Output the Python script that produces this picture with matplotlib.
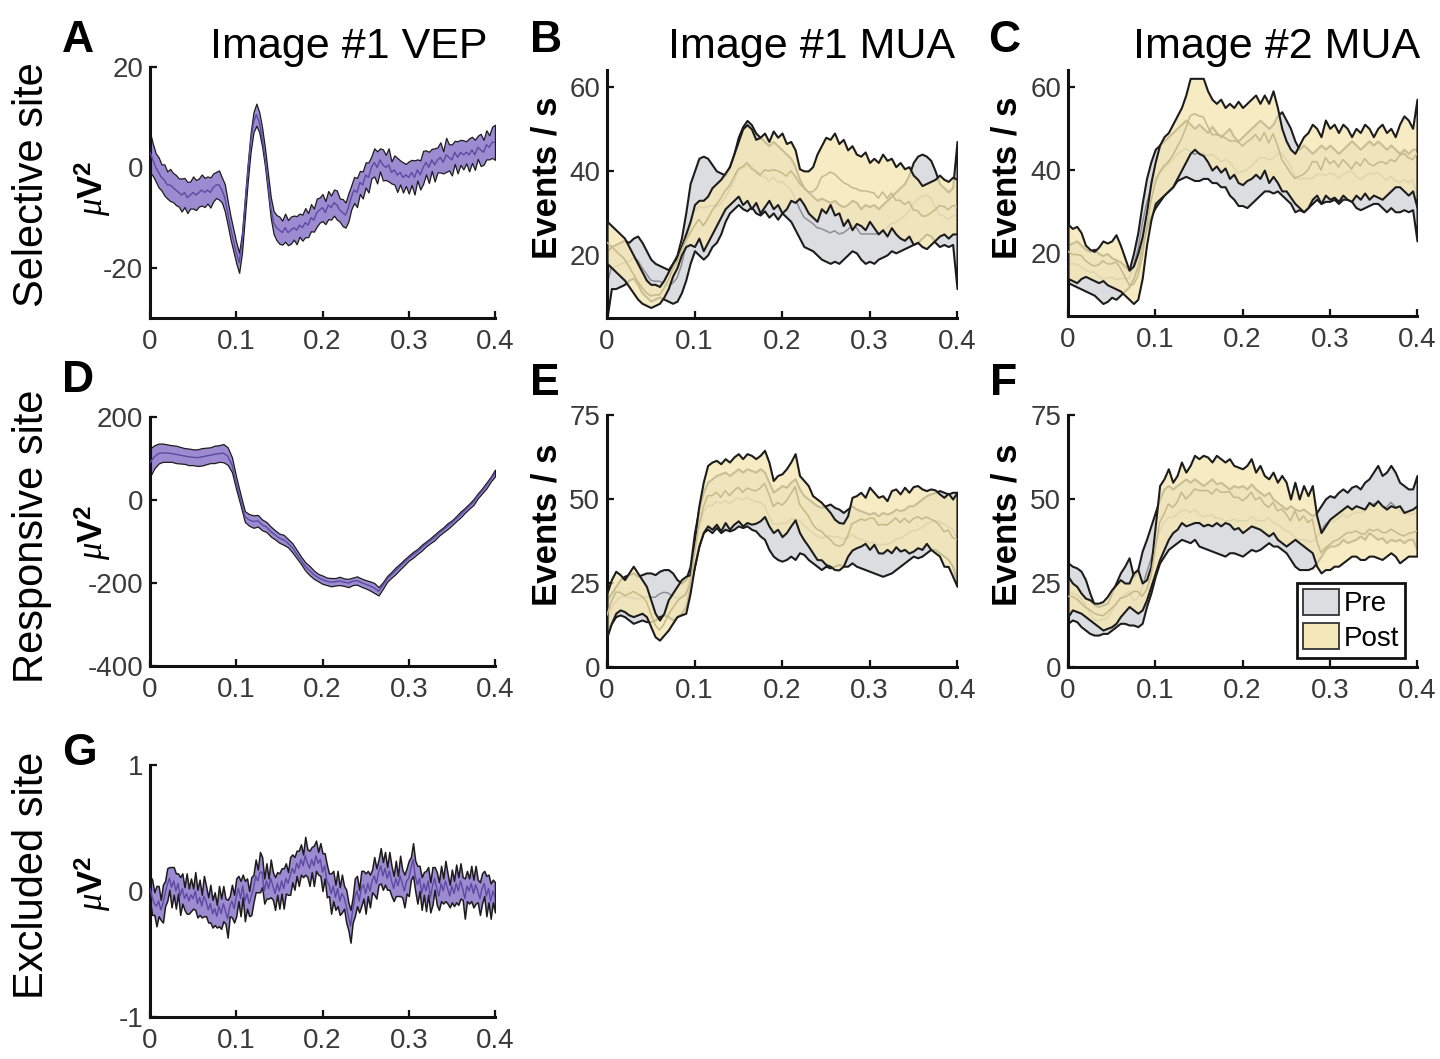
import numpy as np
import matplotlib
matplotlib.use("Agg")
import matplotlib.pyplot as plt
from matplotlib.patches import Patch

plt.rcParams["font.family"] = ["Liberation Sans", "DejaVu Sans"]
plt.rcParams["axes.unicode_minus"] = False
plt.rcParams["mathtext.fontset"] = "custom"
plt.rcParams["mathtext.rm"] = "Liberation Sans"
plt.rcParams["mathtext.it"] = "Liberation Serif:italic"
plt.rcParams["mathtext.bf"] = "Liberation Sans:bold"

# ---------------------------------------------------------------- data
XTICKS = [0, 0.1, 0.2, 0.3, 0.4]
XTICKLABELS = ["0", "0.1", "0.2", "0.3", "0.4"]

row_labels = ["Selective site", "Responsive site", "Excluded site"]
titles = ["Image #1 VEP", "Image #1 MUA", "Image #2 MUA"]
legend_labels = ["Pre", "Post"]

# VEP, selective site (mean and s.e.m., uV^2), 0-0.4 s
vep_sel_mean = np.array([
    3, 1.5, 0, -1, -2, -2.5, -3.5, -3.5, -4, -4.5,
    -5, -5.5, -5, -6, -5.5, -5, -5.5, -5, -4.5, -5,
    -4.5, -5, -4, -3.5, -3.5, -4.5, -6, -9, -12, -14.5,
    -17, -19, -15, -8, -1, 5, 9, 10.5, 9, 6,
    2, -3, -8, -11, -12, -12.5, -13, -12, -13, -12.5,
    -12, -12.5, -11.5, -12, -11, -11.5, -10, -10.5, -9, -8.5,
    -8, -9, -7.5, -8, -7, -7.5, -8.5, -9, -9.5, -8,
    -6, -4.5, -5, -3, -3.5, -1.5, -2, 0, 1, 0,
    1.5, 0.5, 0, 0.5, -1, -0.5, -1.5, -1, -2, -1.5,
    -2, -1, -2, -0.5, -1.5, 0, 1, 0, 1.5, 0.5,
    1.5, 2, 1, 2.5, 2, 1.5, 3, 2, 3, 2.5,
    3, 2.5, 3.5, 2.5, 4, 3.5, 3, 4.5, 4, 5,
    5])
vep_sel_sem = np.array([
    4.0, 3.2, 2.8, 3.0, 2.6, 3.1, 2.7, 3.2, 2.9, 3.0,
    2.8, 3.3, 2.9, 3.1, 2.7, 3.2, 3.0, 2.8, 3.1, 2.9,
    2.7, 3.0, 2.8, 2.6, 2.9, 2.5, 2.7, 2.4, 2.3, 2.2,
    2.1, 2.0, 2.0, 1.9, 1.8, 1.9, 2.0, 2.2, 2.0, 1.9,
    1.8, 1.9, 2.1, 2.3, 2.5, 2.7, 2.4, 2.8, 2.5, 2.7,
    2.4, 2.8, 2.3, 2.6, 2.9, 2.4, 2.7, 2.3, 2.8, 2.5,
    2.7, 2.3, 2.8, 2.4, 2.6, 2.9, 2.3, 2.7, 2.5, 2.8,
    2.4, 2.6, 2.9, 2.3, 2.7, 2.5, 3.0, 2.2, 2.8, 3.2,
    2.3, 3.1, 2.5, 3.3, 2.2, 2.9, 3.4, 2.4, 3.0, 2.2,
    3.2, 2.5, 3.4, 2.1, 2.9, 3.3, 2.4, 3.1, 2.2, 3.3,
    2.5, 3.0, 2.2, 3.4, 2.6, 3.1, 2.3, 3.2, 2.5, 2.9,
    2.2, 3.3, 2.6, 3.0, 2.3, 3.2, 2.5, 2.9, 2.4, 3.1,
    3.5])

# VEP, responsive site
vep_resp_mean = np.array([
    90, 104, 112, 114, 113, 112, 110, 108, 106, 104,
    103, 102, 104, 106, 108, 110, 112, 113, 106, 85,
    40, 0, -40, -48, -52, -50, -60, -65, -76, -84,
    -92, -96, -104, -115, -130, -145, -160, -170, -180, -187,
    -192, -196, -198, -197, -195, -198, -200, -196, -194, -199,
    -203, -207, -212, -220, -206, -190, -180, -170, -160, -150,
    -140, -132, -124, -115, -106, -98, -90, -80, -72, -63,
    -55, -45, -35, -25, -15, -5, 10, 22, 35, 50,
    65])
vep_resp_sem = np.array([
    34, 28, 24, 22, 21, 20, 21, 20, 19, 20,
    19, 20, 21, 20, 19, 21, 20, 22, 21, 18,
    15, 13, 13, 14, 15, 14, 13, 12, 12, 11,
    11, 12, 10, 11, 10, 9, 10, 11, 10, 9,
    10, 9, 10, 9, 10, 9, 10, 9, 10, 10,
    10, 11, 12, 10, 8, 7, 7, 8, 7, 7,
    6, 7, 6, 7, 6, 6, 7, 6, 6, 7,
    6, 6, 7, 6, 6, 7, 6, 6, 7, 6,
    8])

# VEP, excluded site
vep_excl_mean = np.array([
    0.02, -0.05, -0.10, -0.12, -0.08, -0.15, -0.10, -0.02, 0.05, 0.10,
    0.03, 0.08, 0.00, 0.06, -0.04, 0.02, -0.06, -0.02, -0.08, -0.03,
    -0.06, 0.00, -0.10, -0.05, -0.12, -0.04, -0.08, -0.15, -0.10, -0.18,
    -0.14, -0.20, -0.12, -0.18, -0.10, -0.16, -0.22, -0.12, -0.08, -0.14,
    -0.05, 0.02, -0.06, 0.04, -0.08, -0.02, -0.10, -0.04, 0.02, 0.12,
    0.08, 0.15, 0.15, 0.00, 0.08, 0.02, 0.10, 0.04, -0.02, 0.06,
    0.00, 0.08, 0.02, 0.10, 0.06, 0.12, 0.18, 0.14, 0.22, 0.18,
    0.25, 0.20, 0.28, 0.22, 0.18, 0.25, 0.20, 0.28, 0.22, 0.25,
    0.15, 0.20, 0.08, 0.05, -0.02, 0.04, -0.05, 0.02, -0.08, -0.02,
    -0.05, -0.12, -0.20, -0.28, -0.15, -0.05, 0.00, -0.08, 0.02, 0.05,
    -0.02, 0.06, 0.00, 0.08, 0.12, 0.06, 0.15, 0.20, 0.12, 0.18,
    0.10, 0.16, 0.08, 0.02, 0.10, 0.04, 0.12, 0.06, 0.00, 0.08,
    0.10, 0.18, 0.25, 0.12, 0.05, 0.10, -0.02, 0.06, 0.00, 0.08,
    -0.05, 0.04, 0.10, 0.02, -0.04, 0.06, 0.00, 0.08, 0.02, -0.04,
    0.04, -0.02, 0.06, 0.00, 0.08, 0.02, -0.06, 0.04, 0.00, 0.06,
    -0.02, 0.05, 0.00, -0.06, 0.02, 0.06, -0.04, 0.02, -0.08, 0.00,
    -0.05])
vep_excl_sem = np.array([
    0.10, 0.14, 0.09, 0.16, 0.12, 0.08, 0.15, 0.10, 0.13, 0.09,
    0.16, 0.11, 0.14, 0.08, 0.15, 0.12, 0.09, 0.16, 0.10, 0.13,
    0.08, 0.15, 0.11, 0.14, 0.09, 0.16, 0.12, 0.10, 0.15, 0.11,
    0.13, 0.09, 0.16, 0.12, 0.14, 0.10, 0.15, 0.08, 0.13, 0.11,
    0.15, 0.10, 0.14, 0.09, 0.16, 0.12, 0.10, 0.15, 0.11, 0.13,
    0.09, 0.16, 0.12, 0.10, 0.14, 0.08, 0.15, 0.11, 0.13, 0.09,
    0.14, 0.10, 0.16, 0.12, 0.09, 0.15, 0.11, 0.13, 0.10, 0.14,
    0.12, 0.09, 0.15, 0.11, 0.14, 0.10, 0.16, 0.12, 0.09, 0.13,
    0.15, 0.10, 0.13, 0.09, 0.16, 0.12, 0.10, 0.14, 0.11, 0.15,
    0.09, 0.13, 0.11, 0.13, 0.10, 0.15, 0.12, 0.09, 0.14, 0.11,
    0.16, 0.10, 0.13, 0.09, 0.15, 0.12, 0.10, 0.14, 0.11, 0.13,
    0.09, 0.15, 0.12, 0.10, 0.14, 0.08, 0.16, 0.11, 0.13, 0.10,
    0.14, 0.09, 0.13, 0.12, 0.15, 0.10, 0.13, 0.09, 0.16, 0.11,
    0.12, 0.15, 0.09, 0.13, 0.11, 0.14, 0.10, 0.16, 0.12, 0.09,
    0.13, 0.10, 0.15, 0.11, 0.14, 0.09, 0.16, 0.12, 0.10, 0.14,
    0.11, 0.15, 0.09, 0.13, 0.12, 0.10, 0.16, 0.11, 0.14, 0.09,
    0.12])

# MUA, image #1, selective site (events / s): band limits pre and post
mua_b_pre_lo = np.array([
    5, 12, 12, 12.5, 13, 14, 14.5, 13, 11, 10,
    9, 9.5, 10, 9.5, 9, 8.5, 9, 11, 14, 18,
    21, 20, 19, 20, 22, 23, 25, 28, 30, 31,
    32, 31, 30.5, 31.5, 30, 29.5, 30.5, 29, 30, 28.5,
    30, 29, 28, 26, 24, 22, 21.5, 21, 20, 19,
    18.5, 18, 18.5, 18, 19, 20, 21, 20.5, 19, 18,
    18.5, 18, 19, 19.5, 20, 21, 20.5, 21, 21.5, 22,
    22.5, 23, 24, 25, 24.5, 23, 22, 22.5, 22, 22.5, 12])
mua_b_pre_hi = np.array([
    21, 22, 22.5, 23, 23.5, 23, 24, 24.5, 23, 21,
    19, 18, 17.5, 17, 16.5, 18, 20, 24, 30, 37,
    40, 43, 43.5, 43, 41.5, 40, 39.5, 39, 41, 44,
    48, 50.5, 52, 51, 49, 48, 47, 46, 47, 46,
    45, 44, 43, 41, 38, 36, 35, 34, 33, 33.5,
    33, 32.5, 33, 32, 31.5, 32, 33, 32.5, 31, 32,
    31.5, 32, 31, 32, 33, 34, 35, 36, 37, 39,
    42, 43.5, 44, 43.5, 42.5, 40, 37, 36, 35, 36, 47])
mua_b_post_lo = np.array([
    18, 17, 16, 15, 14, 12.5, 11, 9.5, 8.5, 8,
    7.5, 8, 8.5, 10, 12, 15, 17, 20, 22, 22.5,
    22, 24, 21, 23, 25, 27, 29, 31, 32, 33,
    34, 32, 33, 31, 32.5, 30, 31.5, 33, 31, 32,
    30, 31, 33, 32.5, 33.5, 32, 30, 29, 28, 31,
    30, 32, 29.5, 30, 27, 28.5, 26, 27.5, 27, 26,
    28, 26.5, 25, 26, 24.5, 26.5, 25, 24, 23.5, 24.5,
    22.5, 23, 22, 21.5, 22.5, 23.5, 24.5, 25, 24, 25, 25])
mua_b_post_hi = np.array([
    28, 27, 26, 25, 24, 22, 20, 18, 16, 14,
    13, 13, 12.5, 14, 16, 18, 19.5, 22, 25, 28,
    32, 33, 33, 34, 36, 37, 38, 39.5, 41, 44,
    47, 50, 51, 50, 47.5, 48, 49, 47, 49.5, 48,
    49, 46.5, 47, 45, 40.5, 40, 40, 41, 44, 46,
    48, 47.5, 49, 46.5, 47.5, 45, 46, 44, 43.5, 44.5,
    42, 43, 42, 44, 42.5, 43, 41, 42, 40.5, 41,
    39, 38, 36.5, 37, 37.5, 38, 39, 38, 37.5, 38.5, 38])

# MUA, image #2, selective site
mua_c_pre_lo = np.array([
    13, 12.5, 12, 11.5, 11, 10.5, 10, 9, 8, 8.5,
    9.5, 9, 10, 11, 12, 14, 17, 22, 26, 29,
    31, 32.5, 34, 35, 36, 37.5, 38, 38.5, 38, 37.5,
    37.5, 38, 38, 37, 37, 36, 36, 34, 33, 31.5,
    31.5, 31, 32, 33, 34, 35, 35, 34.5, 35, 34,
    33, 32, 30, 30.5, 30, 31, 32, 33, 32, 32.5,
    32.5, 33, 32, 33, 33, 32.5, 31, 30.5, 31, 31.5,
    32, 32, 31, 30, 31, 30, 30, 30.5, 30, 30.5, 23])
mua_c_pre_hi = np.array([
    22, 22.5, 23, 22, 21, 20.5, 21, 20, 19.5, 20,
    19, 18.5, 18, 17, 16, 20, 25, 32, 38, 42,
    45, 46, 47, 48, 49, 50, 51, 52, 51, 50,
    51, 50, 49, 50.5, 49, 48, 49, 50, 48, 47,
    48, 49, 50, 51, 52, 51, 50, 51, 53, 54,
    52, 50, 47, 45, 46, 45, 44, 45, 46, 45,
    46, 45, 44, 45, 46, 47, 46, 45, 46, 47,
    46, 47, 46, 45, 46, 45, 44, 45, 44, 45, 45])
mua_c_post_lo = np.array([
    14, 13.5, 13, 14, 14.5, 14, 13.5, 13, 13.5, 12.5,
    12, 11.5, 11, 10, 9, 8, 9, 14, 22, 28,
    32, 33, 34, 35, 36, 38, 40, 42, 44, 45,
    44, 43.5, 42, 40, 41, 39.5, 40.5, 38, 39, 37,
    36.5, 37.5, 38, 39, 38, 40, 37, 38.5, 37, 35,
    35, 33.5, 32, 31, 30, 31, 33, 34, 32, 34,
    33, 33.5, 32.5, 34, 33, 32.5, 34, 33, 34.5, 33,
    34, 33.5, 33, 34, 35, 36, 36, 35, 34, 35, 31])
mua_c_post_hi = np.array([
    27, 26, 26.5, 25, 22, 21, 20.5, 21.5, 23, 22.5,
    23, 24.5, 22, 19, 16, 17, 20, 24, 30, 37,
    42, 46, 48, 49, 51, 53, 55, 58, 62, 62,
    62, 62, 59, 57, 56, 57, 55, 56, 55, 56.5,
    55, 56, 57, 58, 56, 58, 56, 59, 55, 50,
    47, 45, 44, 46, 48, 49, 51, 50, 48, 52,
    50, 51, 49, 51, 50, 48, 50, 49, 51, 50,
    48, 50, 51, 49, 50, 48, 51, 53, 52, 50, 57])

# MUA, image #1, responsive site
mua_e_pre_lo = np.array([
    11, 13, 15, 15.5, 15, 14, 13, 13.5, 14, 13.5,
    13.5, 14, 15, 15.5, 15, 14, 15, 16, 18, 24,
    30, 36, 40, 41, 40, 41.5, 40, 41, 40.5, 41,
    42, 41.5, 42, 41, 40.5, 39, 38, 35, 33, 32,
    31.5, 32, 33, 32, 34, 33.5, 32, 31, 30, 29,
    30, 29.5, 30, 30.5, 30, 30, 31, 30, 29.5, 29,
    28.5, 28, 27.5, 27, 27.5, 28, 29, 30, 31, 32,
    33, 32.5, 33, 34, 35, 35, 34, 33, 32, 30, 25])
mua_e_pre_hi = np.array([
    20, 22, 24, 26, 27, 27.5, 28, 27, 27.5, 28,
    28, 27.5, 28.5, 29, 29, 28, 26, 25, 26, 30,
    40, 47, 52, 55, 56, 57, 57.5, 58, 57, 58,
    59, 58, 59, 58.5, 58, 59, 58, 55, 52, 53,
    54, 53.5, 55, 56, 53, 51, 50, 49, 48, 47.5,
    48, 48.5, 47.5, 47, 46, 47, 48, 47, 46.5, 46,
    45.5, 46, 45, 46, 45.5, 46, 47, 46.5, 47, 48,
    48, 49, 50, 51, 51.5, 52, 52.5, 52, 51.5, 52, 52])
mua_e_post_lo = np.array([
    9, 13, 16, 17, 16.5, 15.5, 15, 15.5, 16, 15,
    12, 9, 8, 9.5, 11, 13, 15, 15.5, 16, 22,
    30, 36, 40, 42, 41, 42.5, 40.5, 43, 41, 42.5,
    43.5, 42, 43, 42.5, 42.8, 43.5, 44.8, 42, 40, 41,
    38.8, 40, 42, 43.8, 40, 37.8, 36, 34, 32, 31.9,
    30.5, 30, 29, 28.9, 30, 33, 34.8, 35.5, 36, 36.8,
    35, 36.5, 34, 33.9, 35, 34, 35.8, 34.5, 35, 33.9,
    34.5, 35.5, 35, 36.8, 35, 34, 33, 30, 29.9, 27, 24])
mua_e_post_hi = np.array([
    22, 26, 28.5, 27.5, 26, 28, 30, 28, 26, 24,
    20, 16, 14, 16, 20, 22, 24, 26, 27, 27.5,
    38, 48, 55, 60, 61, 61.5, 60.5, 62, 61, 62.5,
    63.5, 62, 63.5, 63, 62, 63, 64.5, 61, 55.5, 57,
    57.5, 59, 61, 63.5, 57, 55.5, 54, 51, 50, 49,
    47.5, 46, 44, 43, 42.8, 45, 50.5, 51, 52, 50.5,
    53.5, 52, 50.5, 51, 49.5, 52.5, 53, 51.5, 53.5, 52,
    53.7, 54, 53, 52.5, 53, 52.7, 51.5, 50.5, 51.7, 50, 52])

# MUA, image #2, responsive site
mua_f_pre_lo = np.array([
    13, 14, 13.5, 12, 11, 10, 9.5, 9.5, 10, 10,
    11, 12, 13, 13, 12.5, 12.5, 12, 13, 18, 22,
    27, 31, 33, 35, 36, 37, 38, 37.5, 37, 38,
    36, 35.5, 35, 34.5, 34, 33.5, 33, 34, 34, 33.5,
    33, 34, 35, 34.5, 35, 36, 37, 36, 36, 35,
    34, 32, 30, 29, 29, 29, 29.5, 31, 33, 35,
    36, 36, 36.5, 38, 37, 37.5, 38, 39, 38, 40,
    39, 38, 38.5, 37, 38, 37.5, 38, 37, 38, 38, 35])
mua_f_pre_hi = np.array([
    31, 30, 29.5, 28.5, 26, 22, 18.5, 18, 18.5, 19,
    22, 25, 28, 30, 32.5, 27, 29, 34.5, 38, 42,
    46, 50, 53, 54, 53, 54, 55, 56, 55, 56,
    55, 54, 55, 56, 54.5, 55, 54, 53, 54, 53.5,
    54, 53, 54.5, 53, 52, 51, 52, 50, 49, 48,
    47, 48, 47, 46.5, 47, 46, 45, 46, 48, 50,
    51, 50.5, 52, 53, 52, 53.5, 54, 53, 55, 56,
    58, 60, 57, 58, 60, 58, 55, 54, 53, 53, 57])
mua_f_post_lo = np.array([
    15, 17, 16.5, 16, 15, 14, 13, 12, 11, 11.5,
    12, 13, 15, 16.5, 18, 17, 16, 17, 20, 24,
    28, 32, 35, 38, 40, 41, 43, 42, 42.5, 43,
    43, 42, 42.5, 42, 43, 42, 43, 42.5, 41, 41.5,
    40, 41, 42, 41.5, 41, 40, 39, 40, 38, 37,
    36, 37, 38, 37, 36, 35, 34, 30, 28, 29,
    29, 30, 30, 31, 32, 33, 33, 32, 32, 33,
    33, 32.5, 32, 33, 34, 33, 31, 32, 33, 33, 33])
mua_f_post_hi = np.array([
    27, 25, 24, 22, 20.5, 20, 19, 19, 19.5, 21,
    23, 24.5, 26, 25, 25, 28, 29, 25, 26, 30,
    42, 54, 56, 59, 55, 57, 61, 58, 60, 63,
    62, 63, 62.5, 61, 63, 62, 61, 62, 60, 59.5,
    59, 60, 62, 58, 60, 57, 56, 58, 55, 57,
    55, 50, 55, 50, 54, 51, 54, 45, 40, 42,
    44, 45, 46, 47, 48, 47, 48, 47.5, 47, 49,
    48, 49.5, 48, 47, 48, 47.5, 48, 46, 46.5, 47, 48])

# ---------------------------------------------------------------- style
PURPLE = "#9d8bd1"
PURPLE_LINE = "#5b4aa0"
BAND_EDGE = "#1c1c1c"
PRE_FACE = "#dcdde0"
PRE_LINE = "#8e8e96"
POST_FACE = (0.957, 0.906, 0.706, 0.80)
POST_SOLID = "#f4e7b8"
POST_LINE = "#c6b889"
TICK_COLOR = "#3a3a3a"

W, H = 1440, 1059
fig = plt.figure(figsize=(W / 100, H / 100), dpi=100)


def axes_px(left, top, right, bottom):
    return fig.add_axes([left / W, 1 - bottom / H, (right - left) / W, (bottom - top) / H])


def style(ax, ylim, yticks):
    ax.set_xlim(0, 0.4)
    ax.set_ylim(*ylim)
    ax.set_xticks(XTICKS)
    ax.set_xticklabels(XTICKLABELS)
    ax.set_yticks(yticks)
    ax.set_yticklabels([str(v) for v in yticks])
    for s in ("top", "right"):
        ax.spines[s].set_visible(False)
    for s in ("left", "bottom"):
        ax.spines[s].set_linewidth(2.2)
        ax.spines[s].set_color("#111111")
    ax.tick_params(direction="in", length=5, width=1.6, color="#111111",
                   labelsize=20, labelcolor=TICK_COLOR)
    ax.tick_params(axis="x", pad=8)
    ax.tick_params(axis="y", pad=5)
    ax.patch.set_alpha(0)


def draw_vep(ax, mean, sem, edge_lw=0.9):
    t = np.linspace(0, 0.4, len(mean))
    ax.fill_between(t, mean - sem, mean + sem, facecolor=PURPLE,
                    edgecolor=BAND_EDGE, linewidth=edge_lw, zorder=2)
    ax.plot(t, mean, color=PURPLE_LINE, lw=1.0, zorder=3)


def draw_mua(ax, pre_lo, pre_hi, post_lo, post_hi):
    t = np.linspace(0, 0.4, len(pre_lo))
    ax.fill_between(t, pre_lo, pre_hi, facecolor=PRE_FACE,
                    edgecolor=BAND_EDGE, linewidth=1.5, zorder=2)
    ax.plot(t, (pre_lo + pre_hi) / 2, color=PRE_LINE, lw=1.1, zorder=2.1)
    ax.fill_between(t, post_lo, post_hi, facecolor=POST_FACE,
                    edgecolor=BAND_EDGE, linewidth=1.5, zorder=3)
    ax.plot(t, (post_lo + post_hi) / 2, color=POST_LINE, lw=1.1, zorder=3.1)


# panel geometry in pixels (left, top, right, bottom)
axA = axes_px(150, 67, 495, 318)
axB = axes_px(607, 70, 957, 318)
axC = axes_px(1068, 70, 1417, 316)
axD = axes_px(150, 417, 495, 666)
axE = axes_px(607, 415, 957, 667)
axF = axes_px(1068, 415, 1417, 667)
axG = axes_px(150, 765, 495, 1017)

draw_vep(axA, vep_sel_mean, vep_sel_sem)
style(axA, (-30, 20), [-20, 0, 20])
draw_vep(axD, vep_resp_mean, vep_resp_sem)
style(axD, (-400, 200), [-400, -200, 0, 200])
draw_vep(axG, vep_excl_mean, vep_excl_sem, edge_lw=1.1)
style(axG, (-1, 1), [-1, 0, 1])

draw_mua(axB, mua_b_pre_lo, mua_b_pre_hi, mua_b_post_lo, mua_b_post_hi)
style(axB, (5, 64), [20, 40, 60])
draw_mua(axC, mua_c_pre_lo, mua_c_pre_hi, mua_c_post_lo, mua_c_post_hi)
style(axC, (5, 64), [20, 40, 60])
draw_mua(axE, mua_e_pre_lo, mua_e_pre_hi, mua_e_post_lo, mua_e_post_hi)
style(axE, (0, 75), [0, 25, 50, 75])
draw_mua(axF, mua_f_pre_lo, mua_f_pre_hi, mua_f_post_lo, mua_f_post_hi)
style(axF, (0, 75), [0, 25, 50, 75])

handles = [Patch(facecolor=PRE_FACE, edgecolor="#333333", lw=1.3, label=legend_labels[0]),
           Patch(facecolor=POST_SOLID, edgecolor="#333333", lw=1.3, label=legend_labels[1])]
leg = axF.legend(handles=handles, loc="lower right", bbox_to_anchor=(0.966, 0.036),
                 fontsize=20, frameon=True, fancybox=False, edgecolor="#111111",
                 framealpha=1, borderpad=0.22, labelspacing=0.22, handlelength=1.3,
                 handleheight=1.05, handletextpad=0.15, borderaxespad=0)
leg.get_frame().set_linewidth(2)
leg.set_zorder(10)

# column titles, right-aligned to each column's axes
for txt, right in zip(titles, (488, 955, 1420)):
    fig.text(right / W, 1 - 58 / H, txt, ha="right", va="baseline", fontsize=31)

# panel letters
for letter, x, y in [("A", 62, 52), ("B", 530, 52), ("C", 988, 52),
                     ("D", 62, 392), ("E", 530, 395), ("F", 990, 395),
                     ("G", 62, 765)]:
    fig.text(x / W, 1 - y / H, letter, fontsize=32, fontweight="bold", va="baseline")

# row labels
for txt, yc in zip(row_labels, (185, 536, 875)):
    fig.text(32 / W, 1 - yc / H, txt, rotation=90, ha="center", va="center", fontsize=30)

# y-axis labels
for x, yc in [(93, 188), (93, 532), (93, 883)]:
    fig.text(x / W, 1 - yc / H, r"$\mu\mathbf{V}^{\mathbf{2}}$", rotation=90,
             ha="center", va="center", fontsize=25)
for x, yc in [(547, 178), (1007, 178), (547, 525), (1007, 525)]:
    fig.text(x / W, 1 - yc / H, "Events / s", rotation=90, ha="center",
             va="center", fontsize=25, fontweight="bold")

fig.savefig("out.png", dpi=100, facecolor="white")
